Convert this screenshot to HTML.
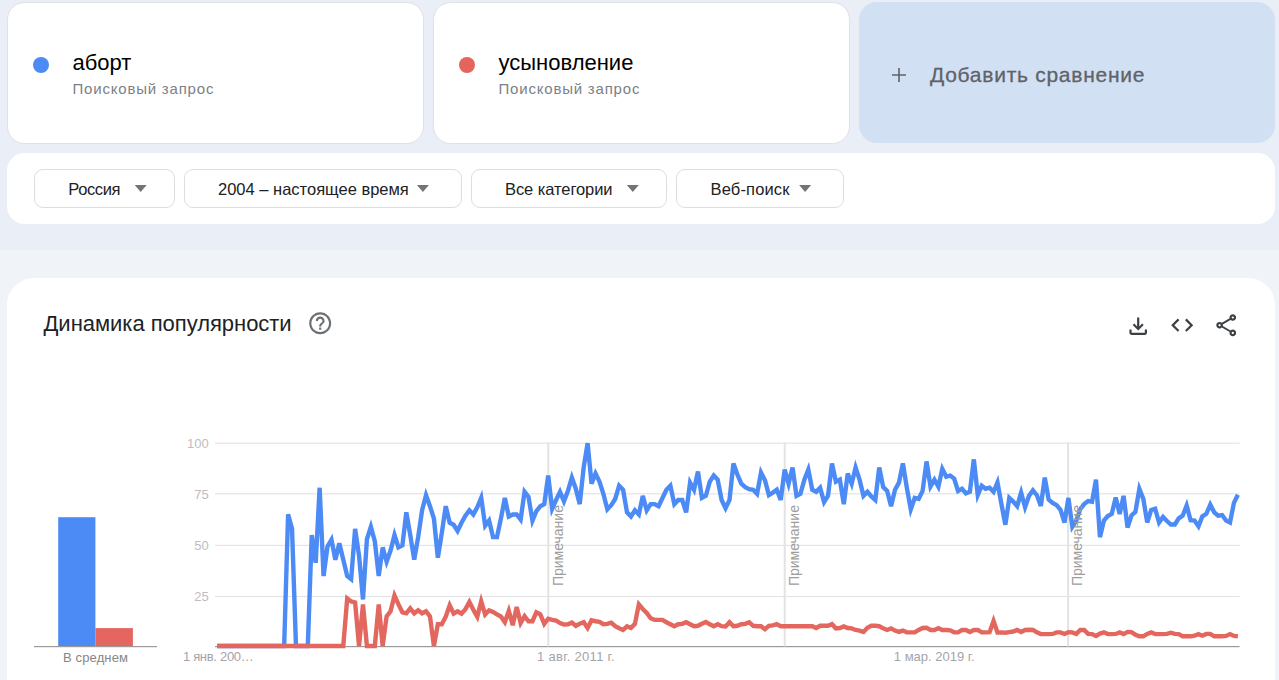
<!DOCTYPE html>
<html lang="ru">
<head>
<meta charset="utf-8">
<title>Google Trends</title>
<style>
*{box-sizing:border-box;margin:0;padding:0}
html,body{width:1279px;height:680px;overflow:hidden}
body{position:relative;background:#f0f4f9;font-family:"Liberation Sans",sans-serif;color:#202124}
.topband{position:absolute;left:0;top:0;width:1279px;height:250px;background:#e9eef7}
.card{position:absolute;top:2px;height:142px;width:417px;background:#fff;border:1px solid #dfe1e5;border-radius:17.6px}
.card .dot{position:absolute;left:24.6px;top:53.5px;width:16.6px;height:16.6px;border-radius:50%}
.card .term{position:absolute;left:64.5px;top:46.5px;font-size:22px;line-height:26px;color:#000;white-space:nowrap}
.card .sub{position:absolute;left:64.5px;top:75.5px;font-size:15px;line-height:20px;letter-spacing:.8px;color:#7b8187;white-space:nowrap}
.addcmp{position:absolute;left:859px;top:2px;width:416px;height:141px;background:#d2e0f3;border-radius:18px}
.addcmp .plus{position:absolute;left:32.2px;top:65.1px;width:16px;height:16px}
.addcmp .lbl{position:absolute;left:71px;top:60px;font-size:21px;line-height:26px;letter-spacing:.73px;color:#5f6368;-webkit-text-stroke:.3px #5f6368;white-space:nowrap}
.filters{position:absolute;left:7px;top:153px;width:1268px;height:71px;background:#fff;border-radius:17.6px}
.fbtn{position:absolute;top:16px;height:39px;border:1px solid #dcdee2;border-radius:9px;background:#fff;font-size:16.5px;line-height:37.6px;color:#202124;white-space:nowrap}
.fbtn span{position:absolute;top:1.1px}
.fbtn i{position:absolute;top:15px;width:12px;height:7px;background:#727578;clip-path:polygon(0 0,100% 0,50% 100%)}
.main{position:absolute;left:7px;top:278px;width:1268px;height:420px;background:#fff;border-radius:27px 27px 0 0}
.main h2{position:absolute;left:36.5px;top:33px;font-size:22px;line-height:26px;letter-spacing:-.03px;font-weight:400;color:#202124;white-space:nowrap}
svg{position:absolute;overflow:visible}
</style>
</head>
<body>
<div class="topband"></div>

<div class="card" style="left:7px">
  <div class="dot" style="background:#4c8bf5"></div>
  <div class="term">аборт</div>
  <div class="sub">Поисковый запрос</div>
</div>
<div class="card" style="left:433px">
  <div class="dot" style="background:#e3655d"></div>
  <div class="term">усыновление</div>
  <div class="sub">Поисковый запрос</div>
</div>
<div class="addcmp">
  <svg class="plus" viewBox="0 0 16 16"><path d="M8 1v14M1 8h14" stroke="#5f6368" stroke-width="1.6" fill="none"/></svg>
  <div class="lbl">Добавить сравнение</div>
</div>

<div class="filters">
  <div class="fbtn" style="left:27px;width:141px"><span style="left:33.3px;letter-spacing:-.4px">Россия</span><i style="left:99.7px"></i></div>
  <div class="fbtn" style="left:177px;width:278px"><span style="left:33px;letter-spacing:0">2004 – настоящее время</span><i style="left:231.9px"></i></div>
  <div class="fbtn" style="left:464px;width:196px"><span style="left:33px;letter-spacing:-.07px">Все категории</span><i style="left:154.8px"></i></div>
  <div class="fbtn" style="left:669px;width:168px"><span style="left:33.5px;letter-spacing:.15px">Веб-поиск</span><i style="left:122.1px"></i></div>
</div>

<div class="main">
  <h2>Динамика популярности</h2>
  <svg class="ic" style="left:299.5px;top:32px" width="26.4" height="26.4" viewBox="0 0 24 24"><path fill="#6c7075" d="M11 18h2v-2h-2v2zm1-16C6.48 2 2 6.48 2 12s4.48 10 10 10 10-4.480 10-10S17.52 2 12 2zm0 18c-4.41 0-8-3.59-8-8s3.59-8 8-8 8 3.59 8 8-3.59 8-8 8zm0-14c-2.21 0-4 1.79-4 4h2c0-1.1.9-2 2-2s2 .9 2 2c0 2-3 1.750-3 5h2c0-2.25 3-2.5 3-5 0-2.21-1.79-4-4-4z"/></svg>
  <svg class="ic" style="left:1118px;top:34.5px" width="26.4" height="26.4" viewBox="0 0 24 24"><path fill="#3c4043" d="M18 15v3H6v-3H4v3c0 1.1.9 2 2 2h12c1.1 0 2-.9 2-2v-3h-2zm-1-4l-1.41-1.410L13 12.170V4h-2v8.170L8.410 9.590 7 11l5 5 5-5z"/></svg>
  <svg class="ic" style="left:1162px;top:33.7px" width="26.4" height="26.4" viewBox="0 0 24 24"><path fill="#3c4043" d="M9.4 16.6L4.8 12l4.6-4.6L8 6l-6 6 6 6 1.4-1.4zm5.2 0l4.6-4.6-4.6-4.6L16 6l6 6-6 6-1.4-1.4z"/></svg>
  <svg class="ic" style="left:1205.8px;top:33.9px" width="26.4" height="26.4" viewBox="0 0 24 24"><path fill="#3c4043" d="M18 22q-1.250 0-2.125-.875T15 19q0-.175.025-.363t.075-.337l-7.050-4.100q-.425.375-.950.588T6 15q-1.250 0-2.125-.875T3 12t.875-2.125T6 9q.575 0 1.100.213t.950.587l7.050-4.100q-.050-.150-.075-.337T15 5q0-1.250.875-2.125T18 2t2.125.875T21 5t-.875 2.125T18 8q-.575 0-1.100-.212t-.950-.588L8.900 11.300q.050.150.075.338T9 12t-.025.363-.075.337l7.050 4.100q.425-.375.950-.587T18 16q1.250 0 2.125.875T21 19t-.875 2.125T18 22m0-16q.425 0 .713-.288T19 5t-.288-.712T18 4t-.712.288T17 5t.288.713T18 6M6 13q.425 0 .713-.288T7 12t-.288-.712T6 11t-.712.288T5 12t.288.713T6 13m12 7q.425 0 .713-.288T19 19t-.288-.712T18 18t-.712.288T17 19t.288.713T18 20"/></svg>
</div>
<svg class="chart" width="1279" height="680" viewBox="0 0 1279 680" style="left:0;top:0" font-family="Liberation Sans, sans-serif">
<rect x="58.2" y="517.2" width="37.2" height="129" fill="#4c8bf5"/>
<rect x="95.4" y="628.1" width="37.5" height="18.1" fill="#e3675f"/>
<rect x="34" y="646" width="123" height="1.2" fill="#9a9a9a"/>
<rect x="215" y="442.6" width="1024.6" height="1.2" fill="#e4e4e4"/>
<rect x="215" y="493.2" width="1024.6" height="1.2" fill="#e4e4e4"/>
<rect x="215" y="544.8" width="1024.6" height="1.2" fill="#e4e4e4"/>
<rect x="215" y="595.9" width="1024.6" height="1.2" fill="#e4e4e4"/>
<rect x="215" y="646" width="1024.6" height="1.2" fill="#9a9a9a"/>
<text x="208.8" y="448.1" font-size="13" fill="#bdbdc0" text-anchor="end">100</text>
<text x="208.8" y="498.7" font-size="13" fill="#bdbdc0" text-anchor="end">75</text>
<text x="208.8" y="550.3" font-size="13" fill="#bdbdc0" text-anchor="end">50</text>
<text x="208.8" y="601.4" font-size="13" fill="#bdbdc0" text-anchor="end">25</text>
<rect x="547.3" y="442.4" width="2" height="204" fill="#e3e3e3"/>
<rect x="783.7" y="442.4" width="2" height="204" fill="#e3e3e3"/>
<rect x="1067.1" y="442.4" width="2" height="204" fill="#e3e3e3"/>
<text x="95.6" y="661.8" font-size="13" letter-spacing=".12" fill="#868686" text-anchor="middle">В среднем</text>
<text x="182.9" y="661.1" font-size="13" letter-spacing="-.3" fill="#a4a4a8">1 янв. 200…</text>
<text x="576" y="661.1" font-size="13" letter-spacing=".3" fill="#a4a4a8" text-anchor="middle">1 авг. 2011 г.</text>
<text x="934.2" y="661.1" font-size="13" fill="#a4a4a8" text-anchor="middle">1 мар. 2019 г.</text>
<polyline points="217.16,646.00 221.10,646.00 225.04,646.00 228.98,646.00 232.92,646.00 236.87,646.00 240.81,646.00 244.75,646.00 248.69,646.00 252.63,646.00 256.57,646.00 260.51,646.00 264.45,646.00 268.39,646.00 272.33,646.00 276.27,646.00 280.22,646.00 284.16,646.00 288.10,514.44 292.04,528.89 295.98,646.00 299.92,646.00 303.86,646.00 307.80,646.00 311.74,535.08 315.69,562.77 319.63,487.73 323.57,576.06 327.51,546.42 331.45,539.62 335.39,559.71 339.33,543.34 343.27,559.71 347.21,576.06 351.15,579.13 355.10,528.89 359.04,555.62 362.98,599.47 366.92,539.21 370.86,526.82 374.80,541.27 378.74,576.06 382.68,547.44 386.62,561.75 390.56,550.51 394.50,535.08 398.45,547.44 402.39,545.40 406.33,512.38 410.27,535.08 414.21,559.71 418.15,537.14 422.09,510.31 426.03,495.24 429.97,506.18 433.91,518.57 437.86,557.66 441.80,533.02 445.74,506.18 449.68,522.70 453.62,524.76 457.56,530.95 461.50,522.70 465.44,515.68 469.38,510.31 473.32,514.44 477.27,507.22 481.21,497.72 485.15,525.79 489.09,520.63 493.03,537.14 496.97,537.14 500.91,518.57 504.85,497.93 508.79,516.50 512.74,514.44 516.68,514.44 520.62,519.60 524.56,491.78 528.50,496.90 532.44,520.63 536.38,511.14 540.32,506.18 544.26,504.12 548.20,475.58 552.14,508.87 556.09,499.99 560.03,491.78 563.97,501.23 567.91,490.97 571.85,477.61 575.79,488.74 579.73,504.12 583.67,467.49 587.61,443.20 591.55,483.68 595.50,473.56 599.44,481.66 603.38,493.80 607.32,509.28 611.26,505.15 615.20,498.96 619.14,485.70 623.08,489.75 627.02,512.38 630.97,516.50 634.91,510.31 638.85,514.44 642.79,495.86 646.73,510.31 650.67,504.12 654.61,504.12 658.55,506.18 662.49,497.93 666.43,489.75 670.38,485.70 674.32,504.12 678.26,499.99 682.20,499.99 686.14,512.38 690.08,482.67 694.02,489.75 697.96,471.54 701.90,497.93 705.84,495.86 709.78,481.66 713.73,475.58 717.67,479.63 721.61,499.99 725.55,508.25 729.49,499.99 733.43,463.44 737.37,474.57 741.31,483.68 745.25,487.12 749.19,489.14 753.14,489.75 757.08,493.80 761.02,472.55 764.96,480.24 768.90,495.04 772.84,492.59 776.78,489.75 780.72,499.99 784.66,469.51 788.60,483.68 792.55,467.49 796.49,495.86 800.43,493.80 804.37,479.63 808.31,469.51 812.25,489.75 816.19,491.78 820.13,487.73 824.07,502.06 828.01,495.86 831.96,463.44 835.90,481.66 839.84,479.63 843.78,504.12 847.72,473.56 851.66,483.68 855.60,467.49 859.54,479.63 863.48,495.86 867.42,491.78 871.37,496.48 875.31,499.99 879.25,467.49 883.19,487.12 887.13,490.97 891.07,506.18 895.01,489.75 898.95,482.67 902.89,463.44 906.83,487.73 910.78,509.28 914.72,497.93 918.66,498.96 922.60,490.97 926.54,461.42 930.48,486.51 934.42,479.63 938.36,486.72 942.30,468.90 946.24,476.60 950.19,475.58 954.13,478.62 958.07,490.97 962.01,488.74 965.95,493.40 969.89,491.78 973.83,459.39 977.77,495.04 981.71,485.70 985.65,488.74 989.60,487.73 993.54,491.78 997.48,482.47 1001.42,504.12 1005.36,524.76 1009.30,497.93 1013.24,501.64 1017.18,506.18 1021.12,492.59 1025.07,507.22 1029.01,495.86 1032.95,490.36 1036.89,495.24 1040.83,505.98 1044.77,477.61 1048.71,499.58 1052.65,502.88 1056.59,505.15 1060.53,509.90 1064.47,522.70 1068.42,497.93 1072.36,526.82 1076.30,520.63 1080.24,509.28 1084.18,504.12 1088.12,501.02 1092.06,501.64 1096.00,479.63 1099.94,537.14 1103.88,520.63 1107.83,516.09 1111.77,513.82 1115.71,497.52 1119.65,514.03 1123.59,495.86 1127.53,527.44 1131.47,515.47 1135.41,511.96 1139.35,488.94 1143.30,498.96 1147.24,522.49 1151.18,509.90 1155.12,508.66 1159.06,522.49 1163.00,516.92 1166.94,521.04 1170.88,524.55 1174.82,524.55 1178.76,518.36 1182.70,515.68 1186.65,505.56 1190.59,520.22 1194.53,520.63 1198.47,526.41 1202.41,516.30 1206.35,513.82 1210.29,504.74 1214.23,512.38 1218.17,515.68 1222.12,515.06 1226.06,520.63 1230.00,522.49 1233.94,502.88 1237.88,494.83" fill="none" stroke="#4c8bf5" stroke-width="4.4" stroke-linejoin="miter" stroke-miterlimit="4"/>
<polyline points="217.16,646.00 221.10,646.00 225.04,646.00 228.98,646.00 232.92,646.00 236.87,646.00 240.81,646.00 244.75,646.00 248.69,646.00 252.63,646.00 256.57,646.00 260.51,646.00 264.45,646.00 268.39,646.00 272.33,646.00 276.27,646.00 280.22,646.00 284.16,646.00 288.10,646.00 292.04,646.00 295.98,646.00 299.92,646.00 303.86,646.00 307.80,646.00 311.74,646.00 315.69,646.00 319.63,646.00 323.57,646.00 327.51,646.00 331.45,646.00 335.39,646.00 339.33,646.00 343.27,646.00 347.21,598.48 351.15,601.45 355.10,602.44 359.04,646.00 362.98,604.42 366.92,646.00 370.86,646.00 374.80,646.00 378.74,604.42 382.68,646.00 386.62,616.30 390.56,611.35 394.50,595.48 398.45,604.42 402.39,612.34 406.33,613.33 410.27,608.38 414.21,613.33 418.15,610.36 422.09,613.33 426.03,611.35 429.97,616.30 433.91,646.00 437.86,624.22 441.80,624.22 445.74,616.70 449.68,605.41 453.62,613.73 457.56,611.35 461.50,613.73 465.44,609.17 469.38,602.04 473.32,609.77 477.27,616.89 481.21,601.25 485.15,614.52 489.09,610.36 493.03,611.94 496.97,614.32 500.91,616.50 504.85,622.24 508.79,610.95 512.74,625.21 516.68,606.99 520.62,623.03 524.56,616.10 528.50,621.25 532.44,621.25 536.38,612.34 540.32,614.32 544.26,623.82 548.20,618.68 552.14,619.86 556.09,620.66 560.03,623.03 563.97,624.62 567.91,624.22 571.85,622.64 575.79,625.80 579.73,623.82 583.67,622.24 587.61,627.98 591.55,620.26 595.50,621.25 599.44,621.84 603.38,624.22 607.32,623.82 611.26,622.64 615.20,626.20 619.14,628.18 623.08,629.96 627.02,626.40 630.97,627.98 634.91,623.82 638.85,604.42 642.79,608.97 646.73,612.93 650.67,618.28 654.61,619.86 658.55,619.86 662.49,619.86 666.43,622.24 670.38,624.22 674.32,626.20 678.26,624.22 682.20,623.82 686.14,622.24 690.08,624.22 694.02,626.20 697.96,625.80 701.90,623.82 705.84,622.04 709.78,624.22 713.73,626.20 717.67,624.22 721.61,626.20 725.55,626.40 729.49,622.24 733.43,626.20 737.37,625.80 741.31,624.22 745.25,623.82 749.19,622.24 753.14,625.80 757.08,626.20 761.02,626.20 764.96,629.17 768.90,625.80 772.84,625.41 776.78,624.22 780.72,626.20 784.66,626.20 788.60,626.20 792.55,626.20 796.49,626.20 800.43,626.20 804.37,626.20 808.31,626.20 812.25,626.20 816.19,627.98 820.13,625.80 824.07,625.80 828.01,625.80 831.96,624.22 835.90,628.38 839.84,627.98 843.78,626.40 847.72,627.98 851.66,628.38 855.60,629.96 859.54,630.56 863.48,631.94 867.42,627.78 871.37,625.80 875.31,625.80 879.25,626.20 883.19,628.38 887.13,629.96 891.07,628.38 895.01,630.56 898.95,631.94 902.89,630.56 906.83,632.34 910.78,632.34 914.72,632.34 918.66,629.96 922.60,627.98 926.54,627.78 930.48,629.96 934.42,629.96 938.36,628.18 942.30,629.96 946.24,629.96 950.19,630.36 954.13,632.34 958.07,632.34 962.01,629.96 965.95,629.96 969.89,631.94 973.83,629.96 977.77,629.96 981.71,632.34 985.65,632.34 989.60,632.14 993.54,621.05 997.48,632.54 1001.42,632.34 1005.36,632.73 1009.30,632.14 1013.24,631.55 1017.18,629.96 1021.12,631.94 1025.07,629.96 1029.01,629.76 1032.95,629.96 1036.89,632.34 1040.83,634.12 1044.77,634.12 1048.71,634.12 1052.65,633.92 1056.59,632.34 1060.53,632.34 1064.47,633.92 1068.42,632.14 1072.36,632.34 1076.30,633.92 1080.24,629.96 1084.18,629.96 1088.12,633.92 1092.06,634.12 1096.00,635.90 1099.94,633.53 1103.88,632.34 1107.83,634.12 1111.77,634.12 1115.71,633.92 1119.65,632.34 1123.59,634.12 1127.53,631.94 1131.47,632.14 1135.41,634.71 1139.35,636.30 1143.30,636.30 1147.24,633.92 1151.18,632.34 1155.12,634.12 1159.06,634.12 1163.00,634.12 1166.94,633.92 1170.88,632.73 1174.82,633.92 1178.76,634.12 1182.70,636.30 1186.65,636.30 1190.59,636.30 1194.53,635.70 1198.47,634.12 1202.41,635.70 1206.35,633.92 1210.29,633.92 1214.23,636.30 1218.17,636.30 1222.12,636.30 1226.06,635.90 1230.00,634.12 1233.94,635.90 1237.88,636.30" fill="none" stroke="#e3675f" stroke-width="4.4" stroke-linejoin="miter" stroke-miterlimit="4"/>
<text transform="translate(562.6,586.1) rotate(-90)" font-size="14" fill="#9e9e9e">Примечание</text>
<text transform="translate(799.0,586.1) rotate(-90)" font-size="14" fill="#9e9e9e">Примечание</text>
<text transform="translate(1082.4,586.1) rotate(-90)" font-size="14" fill="#9e9e9e">Примечание</text>
</svg>
</body>
</html>
